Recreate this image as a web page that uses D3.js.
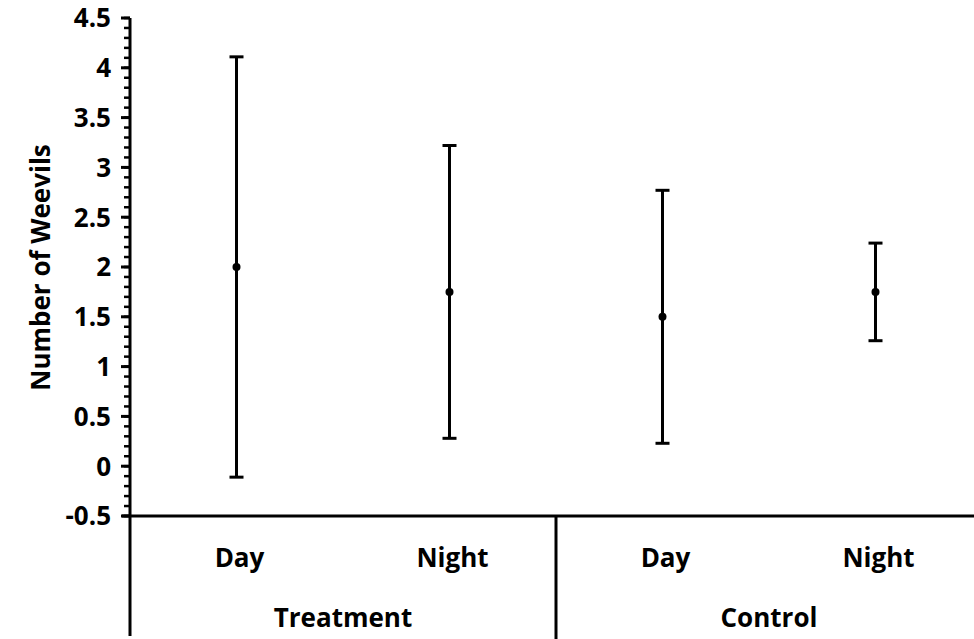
<!DOCTYPE html>
<html><head><meta charset="utf-8">
<script src="https://cdn.jsdelivr.net/npm/d3@7"></script>
<style>body{margin:0;background:#fff}svg{display:block}text{font-family:"Open Sans",sans-serif;font-weight:700;fill:#000}</style>
</head><body><svg id="c" width="974" height="639"></svg>
<script>
const groups = ["Treatment", "Control"];
const periods = ["Day", "Night", "Day", "Night"];
const groupOf = ["Treatment", "Treatment", "Control", "Control"];
const means = [2, 1.75, 1.5, 1.75];
const errors = [2.11, 1.47, 1.27, 0.49];
const yTicks = [-0.5, 0, 0.5, 1, 1.5, 2, 2.5, 3, 3.5, 4, 4.5];

(function () {
const svg = d3.select("#c");
const pL = 130, pR = 982, pT = 18, pB = 516;
const fs = 26;
const y = d3.scaleLinear().domain([-0.5, 4.5]).range([pB, pT]);
const x = d3.scaleBand().domain(d3.range(4)).range([pL, pR]);
const gx = d3.scaleBand().domain(groups).range([pL, pR]);

// minor ticks
const minor = d3.range(-5, 46).map(i => i / 10);
svg.append("g").selectAll("line").data(minor).join("line")
  .attr("x1", pL - 6).attr("x2", pL).attr("y1", d => y(d)).attr("y2", d => y(d))
  .attr("stroke", "#000").attr("stroke-width", 2.5);
// major ticks + labels
const ya = svg.append("g");
ya.selectAll("line").data(yTicks).join("line")
  .attr("x1", pL - 9).attr("x2", pL).attr("y1", d => y(d)).attr("y2", d => y(d))
  .attr("stroke", "#000").attr("stroke-width", 3);
ya.selectAll("text").data(yTicks).join("text")
  .attr("x", pL - 19).attr("y", d => y(d)).attr("dy", "0.36em")
  .attr("text-anchor", "end").attr("font-size", fs).text(d => d);

// axes lines
svg.append("line").attr("x1", pL).attr("x2", pL).attr("y1", pT).attr("y2", 636)
  .attr("stroke", "#000").attr("stroke-width", 3);
svg.append("line").attr("x1", pL - 8).attr("x2", 974).attr("y1", pB).attr("y2", pB)
  .attr("stroke", "#000").attr("stroke-width", 3);
svg.append("line").attr("x1", gx("Control")).attr("x2", gx("Control")).attr("y1", pB).attr("y2", 639)
  .attr("stroke", "#000").attr("stroke-width", 3);

// category labels
svg.append("g").selectAll("text").data(periods).join("text")
  .attr("x", (d, i) => x(i) + x.bandwidth() / 2 + 3).attr("y", 567)
  .attr("text-anchor", "middle").attr("font-size", fs).text(d => d);
svg.append("g").selectAll("text").data(groups).join("text")
  .attr("x", d => gx(d) + gx.bandwidth() / 2).attr("y", 627)
  .attr("text-anchor", "middle").attr("font-size", fs).text(d => d);

// y title
svg.append("text").attr("transform", `translate(50,267.5) rotate(-90)`)
  .attr("text-anchor", "middle").attr("font-size", fs).text("Number of Weevils");

// error bars
const eb = svg.append("g");
means.forEach((m, i) => {
  const cx = x(i) + x.bandwidth() / 2;
  const hi = y(m + errors[i]), lo = y(m - errors[i]);
  eb.append("line").attr("x1", cx).attr("x2", cx).attr("y1", hi).attr("y2", lo)
    .attr("stroke", "#000").attr("stroke-width", 3);
  [hi, lo].forEach(v => eb.append("line").attr("x1", cx - 7).attr("x2", cx + 7).attr("y1", v).attr("y2", v)
    .attr("stroke", "#000").attr("stroke-width", 3));
  eb.append("circle").attr("cx", cx).attr("cy", y(m)).attr("r", 4).attr("fill", "#000");
});
})();
</script></body></html>
